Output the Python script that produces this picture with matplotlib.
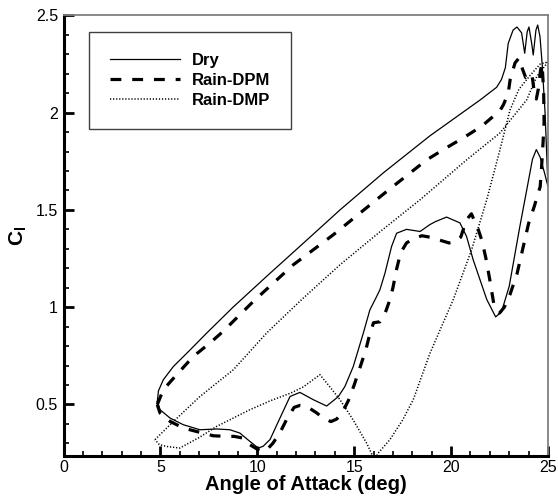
import matplotlib
matplotlib.use("Agg")
import matplotlib.pyplot as plt
from matplotlib.ticker import MultipleLocator

plt.rcParams['font.family'] = ['Liberation Sans', 'DejaVu Sans']
plt.rcParams['mathtext.fontset'] = 'custom'
plt.rcParams['mathtext.rm'] = 'Liberation Sans'
plt.rcParams['mathtext.bf'] = 'Liberation Sans:bold'
plt.rcParams['mathtext.it'] = 'Liberation Sans:italic'

# ---- data (angle of attack in deg, lift coefficient) ----
dry_aoa = [4.84, 4.9, 5.15, 5.67, 6.53, 7.39, 8.75, 10.5, 12.5, 14.27, 16.5, 18.9, 21.5, 22.35,
           22.6, 22.8, 22.95, 23.2, 23.4, 23.64, 23.8, 23.93, 24.02, 24.16, 24.24, 24.38, 24.47,
           24.59, 24.7, 24.85, 24.95, 25.0,
           24.85, 24.6, 24.4, 24.2, 23.9, 23.55, 23.0, 22.6, 22.3, 21.84, 21.14, 20.8, 20.46,
           19.77, 19.2, 18.9, 18.4, 17.7, 17.19, 16.93, 16.59, 16.33, 16.16, 15.81, 15.47, 14.95,
           14.52, 14.18, 13.58, 12.9, 12.2, 11.69, 11.17, 10.66, 10.3, 10.05, 9.62, 9.1, 8.59,
           7.9, 7.04, 6.18, 5.5, 4.98, 4.84]
dry_cl = [0.515, 0.57, 0.627, 0.695, 0.78, 0.867, 1.0, 1.16, 1.34, 1.5, 1.69, 1.88, 2.065, 2.13,
          2.17, 2.23, 2.356, 2.424, 2.44, 2.41, 2.305, 2.416, 2.44, 2.356, 2.296, 2.424, 2.45,
          2.39, 2.25, 2.0, 1.75, 1.62,
          1.68, 1.77, 1.81, 1.76, 1.6, 1.415, 1.107, 0.975, 0.95, 1.04, 1.244, 1.363, 1.433,
          1.463, 1.44, 1.424, 1.389, 1.40, 1.38, 1.312, 1.175, 1.09, 1.055, 0.986, 0.866, 0.694,
          0.592, 0.54, 0.492, 0.524, 0.562, 0.541, 0.43, 0.32, 0.285, 0.276, 0.31, 0.353, 0.37,
          0.374, 0.37, 0.396, 0.43, 0.473, 0.515]

dpm_aoa = [4.84, 5.15, 5.84, 6.7, 7.56, 8.23, 9.8, 11.86, 13.92, 16.68, 18.74, 19.77, 20.63, 21.58,
           22.52, 22.7, 22.95, 23.05, 23.3, 23.5, 23.7, 23.85, 24.0, 24.17, 24.3, 24.4, 24.5,
           24.62, 24.7, 24.78, 24.8, 24.75, 24.67,
           24.6, 24.3, 24.0, 23.7, 23.4, 23.04, 22.75, 22.5, 22.2, 22.0, 21.8, 21.6, 21.4, 21.05,
           20.8, 20.5, 20.2, 19.9, 19.4, 18.9, 18.5, 18.1, 17.7, 17.4, 17.2, 17.0, 16.85, 16.6,
           16.33, 16.0, 15.8, 15.6, 15.3, 15.0, 14.7, 14.4, 14.1, 13.8, 13.4, 13.06, 12.55, 12.2,
           11.9, 11.5, 11.17, 10.8, 10.5, 10.3, 10.0, 9.62, 9.28, 8.8, 8.42, 7.73, 6.87, 6.18,
           5.5, 4.98, 4.84]
dpm_cl = [0.499, 0.576, 0.653, 0.747, 0.816, 0.875, 1.03, 1.218, 1.372, 1.595, 1.757, 1.82, 1.87, 1.93,
          2.01, 2.04, 2.10, 2.17, 2.255, 2.28, 2.22, 2.18, 2.19, 2.2, 2.1, 2.07, 2.12,
          2.22, 2.25, 2.1, 1.95, 1.85, 1.72,
          1.62, 1.52, 1.43, 1.3, 1.17, 1.065, 1.0, 0.97, 1.02, 1.14, 1.25, 1.34, 1.40, 1.48,
          1.45, 1.36, 1.335, 1.33, 1.345, 1.36, 1.367, 1.355, 1.33, 1.28, 1.2, 1.1, 1.04, 0.97,
          0.925, 0.92, 0.86, 0.78, 0.69, 0.6, 0.52, 0.46, 0.425, 0.412, 0.43, 0.457, 0.49, 0.495,
          0.485, 0.42, 0.355, 0.3, 0.268, 0.258, 0.27, 0.293, 0.327, 0.336, 0.336, 0.339, 0.361, 0.379,
          0.413, 0.456, 0.499]

dmp_aoa = [4.72, 5.5, 7.04, 8.76, 10.48, 12.3, 14.27, 16.3, 18.4, 20.8, 22.52, 23.9, 24.42, 25.0,
           24.6, 24.07, 23.5, 23.04, 22.5, 21.84, 21.06, 20.11, 18.91, 18.05, 17.5, 16.85, 16.24, 16.05,
           15.65, 14.95, 14.27, 13.75, 13.23, 12.37, 11.69, 10.7, 9.62, 7.9, 7.0, 6.0, 5.33, 4.95, 4.72]
dmp_cl = [0.319, 0.396, 0.541, 0.678, 0.867, 1.04, 1.218, 1.385, 1.552, 1.757, 1.895, 2.065, 2.185, 2.26,
          2.25, 2.19, 2.12, 2.013, 1.8, 1.552, 1.295, 1.038, 0.763, 0.525, 0.42, 0.32, 0.25, 0.215,
          0.30, 0.42, 0.524, 0.59, 0.653, 0.59, 0.557, 0.52, 0.473, 0.387, 0.33, 0.276, 0.284, 0.293, 0.319]

labels = ['Dry', 'Rain-DPM', 'Rain-DMP']
xticks = [0, 5, 10, 15, 20, 25]
xticklabels = ['0', '5', '10', '15', '20', '25']
yticks = [0.5, 1.0, 1.5, 2.0, 2.5]
yticklabels = ['0.5', '1', '1.5', '2', '2.5']

fig = plt.figure(figsize=(5.58, 5.04), dpi=100)
ax = fig.add_axes([0.1138, 0.0952, 0.8682, 0.8744])

ax.plot(dry_aoa, dry_cl, color='black', lw=0.9, label=labels[0])
ax.plot(dpm_aoa, dpm_cl, color='black', lw=2.3, linestyle=(0, (3.4, 3.4)), label=labels[1])
ax.plot(dmp_aoa, dmp_cl, color='black', lw=1.1, linestyle=(0, (0.8, 1.2)), label=labels[2])

ax.set_xlim(0, 25)
ax.set_ylim(0.235, 2.5)
ax.set_xticks(xticks)
ax.set_xticklabels(xticklabels)
ax.set_yticks(yticks)
ax.set_yticklabels(yticklabels)
ax.xaxis.set_minor_locator(MultipleLocator(1))
ax.yaxis.set_minor_locator(MultipleLocator(0.1))

ax.tick_params(axis='both', which='major', direction='in', length=7, width=2, labelsize=11.5,
               top=False, right=False, color='black')
ax.tick_params(axis='both', which='minor', direction='in', length=3.5, width=1.2,
               top=False, right=False, color='black')
ax.tick_params(axis='x', which='major', pad=3)
ax.tick_params(axis='y', which='major', pad=4)

for s in ['left', 'bottom']:
    ax.spines[s].set_linewidth(2.2)
    ax.spines[s].set_color('black')
for s in ['top', 'right']:
    ax.spines[s].set_linewidth(1.3)
    ax.spines[s].set_color('#808080')

ax.set_xlabel('Angle of Attack (deg)', fontsize=14.5, fontweight='bold', labelpad=0)
ax.set_ylabel(r'$\mathbf{C}_{\mathbf{l}}$', fontsize=15, labelpad=5)

leg = ax.legend(loc='upper left', bbox_to_anchor=(0.0526, 0.962), borderaxespad=0,
                prop={'weight': 'bold', 'size': 12}, handlelength=4.2, handletextpad=0.7,
                labelspacing=0.3, borderpad=1.25, fancybox=False, framealpha=1,
                edgecolor='#404040')
leg.get_frame().set_linewidth(1.0)

fig.savefig('out.png', dpi=100)
